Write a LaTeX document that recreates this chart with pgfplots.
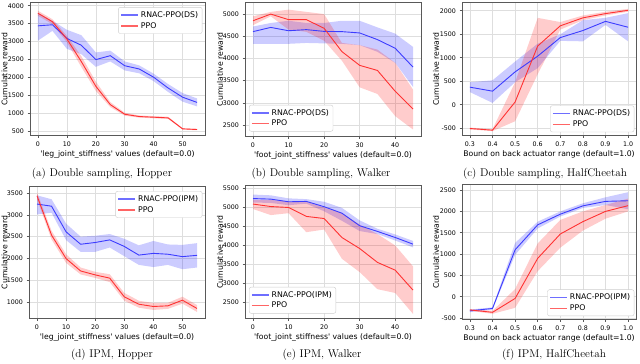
\documentclass[border=0pt]{standalone}
\usepackage{fontspec}
\usepackage{pgfplots}
\usepackage{pgfplotstable}
\pgfplotsset{compat=1.18}
\usepgfplotslibrary{fillbetween}
\newfontfamily\dv{DejaVu Sans}
\definecolor{bline}{RGB}{60,60,255}
\definecolor{rline}{RGB}{255,50,50}
\definecolor{blegend}{RGB}{110,110,255}
\definecolor{rlegend}{RGB}{255,100,100}

% columns: x, blue mean/lo/hi, red mean/lo/hi
\pgfplotstableread{
x bm bl bh rm rl rh
0 3440 3030 3800 3790 3720 3860
5 3470 3300 3580 3555 3485 3625
10 3090 2800 3330 3075 2985 3165
15 2900 2650 3180 2445 2295 2595
20 2500 2300 2700 1760 1630 1890
25 2610 2450 2750 1250 1180 1320
30 2330 2200 2450 980 940 1020
35 2240 2120 2340 917 887 947
40 2010 1900 2110 898 868 928
45 1710 1600 1820 880 850 910
50 1455 1330 1570 574 554 594
55 1310 1200 1420 556 536 576
}\ta
\pgfplotstableread{
x bm bl bh rm rl rh
0 4605 4330 4720 4850 4750 4950
5 4700 4330 4800 5000 4950 5050
10 4625 4330 4850 4875 4650 5100
15 4650 4350 4800 4875 4600 5050
20 4610 4340 4800 4680 4400 5000
25 4605 4330 4850 4155 3950 4350
30 4575 4300 4850 3845 3350 4300
35 4425 4150 4700 3730 3200 4200
40 4230 3900 4560 3260 2700 3900
45 3805 3360 4260 2860 2400 3300
}\tb
\pgfplotstableread{
x bm bl bh rm rl rh
0.3 375 270 480 -505 -525 -485
0.4 290 40 520 -540 -560 -520
0.5 700 480 920 60 -350 480
0.6 1035 780 1300 1250 650 1850
0.7 1430 1360 1500 1680 1600 1760
0.8 1580 1350 1800 1850 1800 1900
0.9 1775 1700 1850 1940 1900 1980
1.0 1650 1350 1950 2010 1980 2040
}\tc
\pgfplotstableread{
x bm bl bh rm rl rh
0 3250 3010 3450 3440 3360 3520
5 3200 3050 3360 2535 2435 2635
10 2610 2420 2800 1995 1895 2095
15 2325 2150 2500 1710 1630 1790
20 2365 2150 2520 1620 1550 1690
25 2425 2250 2560 1545 1455 1635
30 2275 2050 2450 1115 1025 1205
35 2075 1850 2300 945 865 1025
40 2115 1800 2400 893 813 973
45 2095 1850 2320 908 838 978
50 2040 1750 2310 1038 958 1118
55 2070 1790 2350 847 767 927
}\td
\pgfplotstableread{
x bm bl bh rm rl rh
0 5235 5130 5340 5090 4960 5200
5 5220 5120 5320 5025 4800 5200
10 5150 5060 5240 5000 4850 5150
15 5160 5100 5220 4765 4350 5150
20 5020 4900 5150 4710 4420 5000
25 4850 4650 4990 4210 3650 4850
30 4520 4380 4660 3920 3300 4550
35 4370 4300 4440 3555 2850 4300
40 4210 4130 4290 3350 2750 4000
45 4035 3950 4120 2825 2200 3450
}\te
\pgfplotstableread{
x bm bl bh rm rl rh
0.3 -330 -360 -300 -310 -330 -290
0.4 -275 -300 -250 -365 -400 -330
0.5 1100 980 1260 -40 -260 180
0.6 1685 1600 1760 900 600 1250
0.7 1935 1880 2000 1470 1150 1800
0.8 2130 2080 2190 1760 1550 2000
0.9 2235 2150 2330 2000 1830 2150
1.0 2250 2050 2450 2135 2000 2300
}\tf

\newcommand{\series}[2]{%
 \addplot[draw=none, name path=bh, forget plot] table[x=x,y=bh]{#1};
 \addplot[draw=none, name path=bl, forget plot] table[x=x,y=bl]{#1};
 \addplot[fill=blue, fill opacity=0.2, draw=none, forget plot] fill between[of=bh and bl];
 \addplot[draw=none, name path=rh, forget plot] table[x=x,y=rh]{#1};
 \addplot[draw=none, name path=rl, forget plot] table[x=x,y=rl]{#1};
 \addplot[fill=red, fill opacity=0.2, draw=none, forget plot] fill between[of=rh and rl];
 \addplot[bline, line width=0.9pt, legend image post style={blegend, line width=1.4pt}] table[x=x,y=bm]{#1};
 \addlegendentry{#2}
 \addplot[rline, line width=0.9pt, legend image post style={rlegend, line width=1.4pt}] table[x=x,y=rm]{#1};
 \addlegendentry{PPO}
}

\pgfplotsset{
 panel/.style={
  scale only axis, anchor=south west,
  axis line style={black!65, line width=0.6pt},
  tick style={black!65, line width=0.6pt},
  major tick length=2.5pt,
  tick align=outside, xtick pos=bottom, ytick pos=left,
  grid=major, major grid style={black!13, line width=0.6pt},
  tick label style={font=\dv\fontsize{6.3}{7}\selectfont},
  label style={font=\dv\fontsize{7.7}{8.5}\selectfont},
  /pgf/number format/assume math mode=true,
  /pgf/number format/1000 sep={},
  scaled ticks=false,
  xlabel style={yshift=2pt},
  legend style={font=\dv\fontsize{7.8}{8.6}\selectfont, draw=black!20, rounded corners=2pt, fill=white, inner sep=2pt, row sep=-0.5pt},
  legend cell align=left,
 },
 decx/.style={xmin=0.265, xmax=1.035, xtick={0.3,0.4,0.5,0.6,0.7,0.8,0.9,1.0},
  xticklabel style={/pgf/number format/.cd, fixed, fixed zerofill, precision=1},
  xlabel={Bound on back actuator range (default=1.0)}},
 ur/.style={legend style={at={(0.985,0.965)}, anchor=north east}},
 ll/.style={legend style={at={(0.023,0.037)}, anchor=south west}},
 lr/.style={legend style={at={(0.99,0.025)}, anchor=south east}},
}

\begin{document}
\begin{tikzpicture}[trim left=0pt, trim right=640pt]
\path (0pt,0pt) rectangle (640pt,360pt);

% (a)
\begin{axis}[panel, ur, at={(30pt,227pt)}, width=175pt, height=133pt,
 xmin=-2.75, xmax=57.75, ymin=390, ymax=4090,
 xtick={0,10,20,30,40,50}, ytick={500,1000,...,4000},
 xlabel={'leg\_joint\_stiffness' values (default=0.0)}]
\series{\ta}{RNAC-PPO(DS)}
\end{axis}
% (b)
\begin{axis}[panel, ll, at={(245pt,226pt)}, width=176pt, height=134pt,
 xmin=-2.25, xmax=47.25, ymin=2242, ymax=5262,
 xtick={0,10,20,30,40}, ytick={2500,3000,...,5000},
 xlabel={'foot\_joint\_stiffness' values (default=0.0)}]
\series{\tb}{RNAC-PPO(DS)}
\end{axis}
% (c)
\begin{axis}[panel, lr, decx, at={(462pt,227pt)}, width=174pt, height=133pt,
 ymin=-653, ymax=2177, ytick={-500,0,...,2000}]
\series{\tc}{RNAC-PPO(DS)}
\end{axis}
% (d)
\begin{axis}[panel, ur, at={(29pt,44pt)}, width=176pt, height=132pt,
 xmin=-2.75, xmax=57.75, ymin=617, ymax=3654,
 xtick={0,10,20,30,40,50}, ytick={1000,1500,...,3500},
 xlabel={'leg\_joint\_stiffness' values (default=0.0)}]
\series{\td}{RNAC-PPO(IPM)}
\end{axis}
% (e)
\begin{axis}[panel, ll, at={(245pt,44pt)}, width=176pt, height=133pt,
 xmin=-2.25, xmax=47.25, ymin=2079, ymax=5579,
 xtick={0,10,20,30,40}, ytick={2500,3000,...,5500},
 xlabel={'foot\_joint\_stiffness' values (default=0.0)}]
\series{\te}{RNAC-PPO(IPM)}
\end{axis}
% (f)
\begin{axis}[panel, lr, decx, at={(462pt,43pt)}, width=174pt, height=135pt,
 ymin=-533, ymax=2631, ytick={-500,0,...,2500}]
\series{\tf}{RNAC-PPO(IPM)}
\end{axis}

\begin{scope}[every node/.style={rotate=90, inner sep=0pt, font=\dv\fontsize{7.7}{8.5}\selectfont}]
\node at (4.5pt,293.5pt) {Cumulative reward};
\node at (220pt,293pt) {Cumulative reward};
\node at (436pt,293.5pt) {Cumulative reward};
\node at (4.5pt,110pt) {Cumulative reward};
\node at (220pt,110.5pt) {Cumulative reward};
\node at (436pt,110.5pt) {Cumulative reward};
\end{scope}

\begin{scope}[font=\fontsize{11.2}{13}\selectfont]
\node at (102pt,189pt) {(a) Double sampling, Hopper};
\node at (321pt,189pt) {(b) Double sampling, Walker};
\node at (545pt,189pt) {(c) Double sampling, HalfCheetah};
\node at (112pt,8pt) {(d) IPM, Hopper};
\node at (322pt,8pt) {(e) IPM, Walker};
\node at (554pt,8pt) {(f) IPM, HalfCheetah};
\end{scope}
\end{tikzpicture}
\end{document}
